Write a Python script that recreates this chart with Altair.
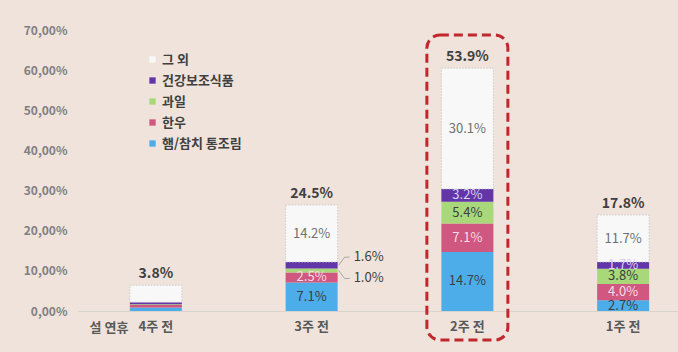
import altair as alt
import pandas as pd

categories = ["4주 전", "3주 전", "2주 전", "1주 전"]
series = ["햄/참치 통조림", "한우", "과일", "건강보조식품", "그 외"]  # bottom -> top

ham_tuna = [0.9, 7.1, 14.7, 2.7]
hanwoo = [0.6, 2.5, 7.1, 4.0]
fruit = [0.2, 1.0, 5.4, 3.8]
health = [0.5, 1.6, 3.2, 1.7]
other = [4.2, 14.2, 30.1, 11.7]
total_labels = ["3.8%", "24.5%", "53.9%", "17.8%"]

hidden_label_cats = ["4주 전"]
callouts = [("3주 전", "건강보조식품", 1), ("3주 전", "과일", -1)]

y_ticks = [0, 10, 20, 30, 40, 50, 60, 70]

fill_colors = ["#4DADE8", "#D0577F", "#A8D87A", "#6236A8", "#F8F8F8"]
text_colors = ["#3A3F44", "#F7DDE7", "#3A3F44", "#DCD0F5", "#707070"]
FONT = "Noto Sans CJK KR"

values_by_series = [ham_tuna, hanwoo, fruit, health, other]
rows = []
for i, c in enumerate(categories):
    base = 0.0
    for s, vals in zip(series, values_by_series):
        v = vals[i]
        is_callout = any(cc == c and ss == s for cc, ss, _ in callouts)
        rows.append({
            "cat": c, "series": s, "value": v,
            "y0": base, "y1": base + v, "mid": base + v / 2,
            "label": f"{v:.1f}%",
            "inside": (c not in hidden_label_cats) and not is_callout,
        })
        base += v
df = pd.DataFrame(rows)

tot = df.groupby("cat", sort=False)["y1"].max().reset_index()
tot["label"] = total_labels

co_rows = []
for c, s, d in callouts:
    r = df[(df.cat == c) & (df.series == s)].iloc[0]
    co_rows.append({"cat": c, "mid": r["mid"], "ly": r["mid"] + 2.0 * d, "label": r["label"]})
co = pd.DataFrame(co_rows)

x_enc = alt.X(
    "cat:N", sort=categories,
    scale=alt.Scale(range=[0, 623], paddingInner=0, paddingOuter=0),
    axis=alt.Axis(title=None, ticks=False, labelAngle=0, domainColor="#D9D3CE",
                  labelFontSize=13, labelFont=FONT, labelFontWeight="bold",
                  labelColor="#595959", labelPadding=9, grid=False),
)
xs = alt.X("cat:N", sort=categories)
xs2 = alt.X2("cat")
y_enc = alt.Y(
    "y0:Q", scale=alt.Scale(domain=[0, 70], nice=False),
    axis=alt.Axis(title=None, values=y_ticks, domain=False, ticks=False, grid=False,
                  labelExpr="replace(format(datum.value, '.2f'), '.', ',') + '%'",
                  labelFontSize=12, labelFont=FONT, labelFontWeight="bold",
                  labelColor="#808080", labelPadding=11),
)

legend_order = list(reversed(series))
legend_colors = list(reversed(fill_colors))

bars = alt.Chart(df).mark_bar(size=52).encode(
    x=x_enc, y=y_enc, y2="y1:Q",
    fill=alt.Fill("series:N", scale=alt.Scale(domain=legend_order, range=legend_colors),
                  legend=alt.Legend(title=None, orient="none", legendX=68, legendY=23,
                                    symbolType="square", symbolSize=40, symbolStrokeWidth=0,
                                    labelFontSize=13, labelFont=FONT, labelFontWeight="bold",
                                    labelColor="#404040", rowPadding=7, padding=0, labelOffset=3)),
)

other_outline = alt.Chart(df).transform_filter(alt.datum.series == "그 외").mark_bar(
    size=52, filled=False, stroke="#C4C4C4", strokeWidth=0.8, strokeDash=[1.5, 1.5]
).encode(x=xs, y="y0:Q", y2="y1:Q")

seg_text = alt.Chart(df).transform_filter(alt.datum.inside).mark_text(
    fontSize=13, font=FONT, baseline="middle"
).encode(
    x=xs, y="mid:Q", text="label:N",
    color=alt.Color("series:N", scale=alt.Scale(domain=series, range=text_colors), legend=None),
)

tot_text = alt.Chart(tot).mark_text(
    fontSize=14, font=FONT, fontWeight="bold", baseline="bottom", dy=-4, color="#404040"
).encode(x=xs, y="y1:Q", text="label:N")

lead_diag = alt.Chart(co).mark_rule(color="#A6A6A6", strokeWidth=1, xOffset=27, x2Offset=33).encode(
    x=xs, x2=xs2, y="mid:Q", y2="ly:Q")
lead_h = alt.Chart(co).mark_rule(color="#A6A6A6", strokeWidth=1, xOffset=33, x2Offset=38).encode(
    x=xs, x2=xs2, y="ly:Q", y2="ly:Q")
co_text = alt.Chart(co).mark_text(fontSize=13, font=FONT, align="left", baseline="middle",
                                  dx=42, color="#404040").encode(x=xs, y="ly:Q", text="label:N")

box = alt.Chart(pd.DataFrame({"cat": ["2주 전"]})).mark_bar(
    size=81, filled=False, stroke="#C1272D", strokeWidth=3, strokeDash=[9, 5], cornerRadius=13
).encode(x=xs, y=alt.value(5), y2=alt.value(310))

holiday = alt.Chart(pd.DataFrame({"t": ["설 연휴"]})).mark_text(
    fontSize=13, font=FONT, fontWeight="bold", color="#595959", baseline="middle"
).encode(text="t:N", x=alt.value(31), y=alt.value(298))

chart = alt.layer(bars, other_outline, seg_text, tot_text, lead_diag, lead_h, co_text, box, holiday).properties(
    width=600, height=281,
    autosize=alt.AutoSizeParams(type="none"),
    padding={"left": 78, "top": 30, "right": 0, "bottom": 41},
    background="#EFE3DB",
).configure_view(stroke=None)

chart.save("out.html", embed_options={"renderer": "svg", "actions": False})
